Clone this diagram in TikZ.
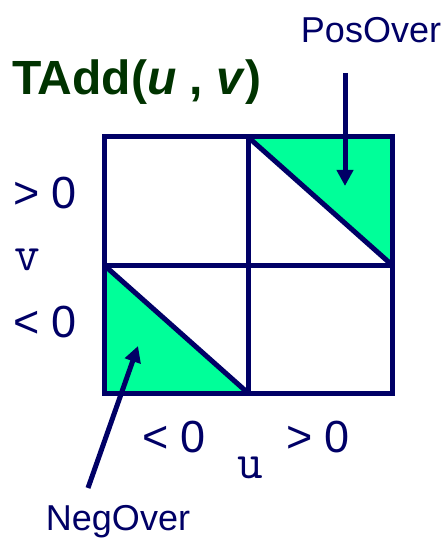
\documentclass[tikz,border=0pt]{standalone}
\usepackage{fontspec}
\setmainfont{Liberation Sans}
\usetikzlibrary{arrows.meta}
\definecolor{navy}{RGB}{0,0,102}
\definecolor{ovgreen}{RGB}{0,255,153}
\definecolor{titlegreen}{RGB}{0,51,0}
\tikzset{
  grid/.style={draw=navy, line width=5pt, line join=miter},
  lbl/.style={text=navy, font=\fontsize{45}{50}\selectfont, inner sep=0pt},
  mlbl/.style={text=navy, font=\ttfamily\fontsize{50}{54}\selectfont, inner sep=0pt},
  call/.style={text=navy, font=\fontsize{36}{40}\selectfont, inner sep=0pt},
  pointer/.style={draw=navy, line width=5pt, -{Triangle[length=16pt,width=16pt]}},
}
\begin{document}
\begin{tikzpicture}[x=1pt,y=-1pt]
\useasboundingbox (0,0) rectangle (447,540);
% green overflow regions
\fill[ovgreen] (248,137) -- (392,137) -- (392,265) -- cycle;
\fill[ovgreen] (104,265) -- (104,393) -- (248,393) -- cycle;
% grid
\draw[grid] (104,137) rectangle (392,393);
\draw[grid] (248,137) -- (248,393);
\draw[grid] (104,265) -- (392,265);
\draw[grid] (248,137) -- (392,265);
\draw[grid] (104,265) -- (248,393);
% title
\node[anchor=base west, inner sep=0pt, text=titlegreen, font=\bfseries\fontsize{48}{52}\selectfont] (title) at (12,95) {TAdd(\textit{u} , \textit{v})};
% axis labels
\node[lbl] (vpos) at (45,193) {> 0};
\node[mlbl, anchor=base] (vlab) at (27,270) {v};
\node[lbl] (vneg) at (45,322) {< 0};
\node[lbl] (uneg) at (174,437) {< 0};
\node[lbl] (upos) at (318,437) {> 0};
\node[mlbl, anchor=base] (ulab) at (250,478) {u};
% callouts
\node[call] (posover) at (371,30) {PosOver};
\node[call] (negover) at (118,522) {NegOver};
\coordinate (ptail) at (345,73);
\coordinate (ptip) at (345,186);
\coordinate (ntail) at (88,488);
\coordinate (ntip) at (138,346);
\draw[pointer] (ptail) -- (ptip);
\draw[pointer] (ntail) -- (ntip);
\end{tikzpicture}
\end{document}
